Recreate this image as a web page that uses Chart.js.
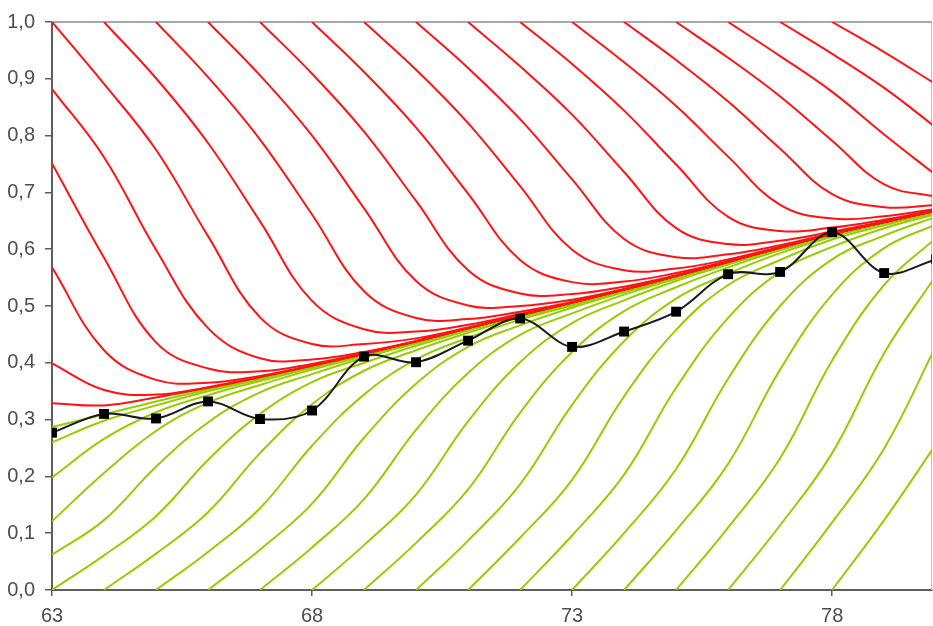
<!DOCTYPE html>
<html>
<head>
<meta charset="utf-8">
<script src="https://cdn.jsdelivr.net/npm/chart.js@4.4.1/dist/chart.umd.min.js"></script>
<style>
  html, body { margin: 0; padding: 0; background: #fff; overflow: hidden; }
  canvas { display: block; }
</style>
</head>
<body>
<canvas id="chart" width="933" height="626"></canvas>
<script>
// x values (years 63..80) and the tick labels on the x axis
const years = [63, 64, 65, 66, 67, 68, 69, 70, 71, 72, 73, 74, 75, 76, 77, 78, 79, 80];
const xTicks = [63, 68, 73, 78];

// black series with square markers
const observed = [0.277, 0.310, 0.302, 0.332, 0.301, 0.316, 0.411, 0.401, 0.439, 0.478,
                  0.428, 0.455, 0.490, 0.556, 0.560, 0.630, 0.558, 0.582];

const N = null;

// red curves, one row per curve, values at years 63..80
const redCurves = [
    [0.329, 0.325, 0.339, 0.356, 0.375, 0.395, 0.416, 0.438, 0.461, 0.484, 0.506, 0.529, 0.553, 0.578, 0.603, 0.627, 0.648, 0.668],
    [0.399, 0.352, 0.344, 0.357, 0.375, 0.395, 0.416, 0.438, 0.461, 0.484, 0.506, 0.529, 0.553, 0.578, 0.603, 0.627, 0.648, 0.668],
    [0.568, 0.422, 0.370, 0.365, 0.377, 0.395, 0.416, 0.438, 0.461, 0.484, 0.506, 0.529, 0.553, 0.578, 0.603, 0.627, 0.648, 0.668],
    [0.751, 0.585, 0.436, 0.390, 0.385, 0.398, 0.417, 0.438, 0.461, 0.484, 0.506, 0.529, 0.553, 0.578, 0.603, 0.627, 0.648, 0.668],
    [0.882, 0.762, 0.599, 0.461, 0.408, 0.406, 0.419, 0.438, 0.461, 0.484, 0.506, 0.529, 0.553, 0.578, 0.603, 0.627, 0.648, 0.668],
    [1.000, 0.891, 0.775, 0.623, 0.480, 0.433, 0.433, 0.443, 0.462, 0.484, 0.506, 0.529, 0.553, 0.578, 0.603, 0.627, 0.648, 0.668],
    [N, 1.000, 0.901, 0.787, 0.649, 0.509, 0.459, 0.455, 0.467, 0.486, 0.506, 0.529, 0.553, 0.578, 0.603, 0.627, 0.648, 0.668],
    [N, N, 1.000, 0.903, 0.793, 0.661, 0.526, 0.479, 0.477, 0.490, 0.507, 0.529, 0.553, 0.578, 0.603, 0.627, 0.648, 0.668],
    [N, N, N, 1.000, 0.906, 0.800, 0.672, 0.544, 0.501, 0.500, 0.511, 0.530, 0.553, 0.578, 0.603, 0.627, 0.648, 0.668],
    [N, N, N, N, 1.000, 0.909, 0.807, 0.685, 0.563, 0.522, 0.521, 0.534, 0.554, 0.578, 0.603, 0.627, 0.648, 0.668],
    [N, N, N, N, N, 1.000, 0.912, 0.814, 0.698, 0.581, 0.542, 0.543, 0.558, 0.579, 0.603, 0.627, 0.648, 0.668],
    [N, N, N, N, N, N, 1.000, 0.916, 0.822, 0.711, 0.599, 0.563, 0.566, 0.582, 0.604, 0.627, 0.648, 0.668],
    [N, N, N, N, N, N, N, 1.000, 0.919, 0.829, 0.723, 0.618, 0.586, 0.591, 0.607, 0.628, 0.648, 0.668],
    [N, N, N, N, N, N, N, N, 1.000, 0.922, 0.837, 0.736, 0.637, 0.609, 0.615, 0.631, 0.649, 0.668],
    [N, N, N, N, N, N, N, N, N, 1.000, 0.926, 0.844, 0.749, 0.657, 0.632, 0.638, 0.652, 0.669],
    [N, N, N, N, N, N, N, N, N, N, 1.000, 0.929, 0.852, 0.763, 0.678, 0.654, 0.658, 0.671],
    [N, N, N, N, N, N, N, N, N, N, N, 1.000, 0.933, 0.860, 0.777, 0.697, 0.674, 0.678],
    [N, N, N, N, N, N, N, N, N, N, N, N, 1.000, 0.937, 0.869, 0.791, 0.714, 0.692],
    [N, N, N, N, N, N, N, N, N, N, N, N, N, 1.000, 0.940, 0.877, 0.802, 0.730],
    [N, N, N, N, N, N, N, N, N, N, N, N, N, N, 1.000, 0.944, 0.884, 0.814],
    [N, N, N, N, N, N, N, N, N, N, N, N, N, N, N, 1.000, 0.947, 0.890]
];

// green curves, same layout
const greenCurves = [
    [0.287, 0.309, 0.332, 0.353, 0.373, 0.393, 0.414, 0.436, 0.459, 0.482, 0.504, 0.527, 0.551, 0.576, 0.601, 0.625, 0.646, 0.666],
    [0.260, 0.298, 0.325, 0.350, 0.371, 0.393, 0.414, 0.436, 0.459, 0.482, 0.504, 0.527, 0.551, 0.576, 0.601, 0.625, 0.646, 0.666],
    [0.198, 0.266, 0.313, 0.343, 0.368, 0.391, 0.414, 0.436, 0.459, 0.482, 0.504, 0.527, 0.551, 0.576, 0.601, 0.625, 0.646, 0.666],
    [0.121, 0.206, 0.280, 0.330, 0.361, 0.388, 0.412, 0.436, 0.459, 0.482, 0.504, 0.527, 0.551, 0.576, 0.601, 0.625, 0.646, 0.666],
    [0.062, 0.123, 0.217, 0.295, 0.348, 0.380, 0.409, 0.434, 0.459, 0.482, 0.504, 0.527, 0.551, 0.576, 0.601, 0.625, 0.646, 0.666],
    [0.000, 0.061, 0.130, 0.229, 0.310, 0.366, 0.400, 0.430, 0.457, 0.482, 0.504, 0.527, 0.551, 0.576, 0.601, 0.625, 0.646, 0.666],
    [N, 0.000, 0.064, 0.137, 0.241, 0.327, 0.386, 0.422, 0.453, 0.480, 0.503, 0.527, 0.551, 0.576, 0.601, 0.625, 0.646, 0.666],
    [N, N, 0.000, 0.067, 0.144, 0.254, 0.344, 0.406, 0.444, 0.476, 0.501, 0.526, 0.551, 0.576, 0.601, 0.625, 0.646, 0.666],
    [N, N, N, 0.000, 0.071, 0.152, 0.268, 0.363, 0.428, 0.466, 0.497, 0.524, 0.550, 0.576, 0.601, 0.625, 0.646, 0.666],
    [N, N, N, N, 0.000, 0.075, 0.160, 0.282, 0.382, 0.449, 0.487, 0.520, 0.548, 0.575, 0.601, 0.625, 0.646, 0.666],
    [N, N, N, N, N, 0.000, 0.079, 0.168, 0.297, 0.401, 0.470, 0.510, 0.544, 0.573, 0.600, 0.625, 0.646, 0.666],
    [N, N, N, N, N, N, 0.000, 0.083, 0.177, 0.312, 0.419, 0.491, 0.533, 0.568, 0.598, 0.624, 0.646, 0.666],
    [N, N, N, N, N, N, N, 0.000, 0.087, 0.186, 0.326, 0.438, 0.513, 0.557, 0.593, 0.622, 0.645, 0.666],
    [N, N, N, N, N, N, N, N, 0.000, 0.092, 0.194, 0.341, 0.458, 0.537, 0.581, 0.617, 0.642, 0.665],
    [N, N, N, N, N, N, N, N, N, 0.000, 0.096, 0.203, 0.356, 0.479, 0.560, 0.604, 0.637, 0.662],
    [N, N, N, N, N, N, N, N, N, N, 0.000, 0.100, 0.213, 0.372, 0.500, 0.582, 0.624, 0.657],
    [N, N, N, N, N, N, N, N, N, N, N, 0.000, 0.105, 0.222, 0.388, 0.520, 0.602, 0.644],
    [N, N, N, N, N, N, N, N, N, N, N, N, 0.000, 0.110, 0.232, 0.404, 0.537, 0.620],
    [N, N, N, N, N, N, N, N, N, N, N, N, N, 0.000, 0.114, 0.241, 0.417, 0.554],
    [N, N, N, N, N, N, N, N, N, N, N, N, N, N, 0.000, 0.119, 0.249, 0.430],
    [N, N, N, N, N, N, N, N, N, N, N, N, N, N, N, 0.000, 0.123, 0.257]
];

const RED = "#ff1414";
const GREEN = "#99cc00";
const AXIS = "#5f5f5f";
const LABEL = "#4d4d4d";

function toPoints(values) {
    return years.map((x, i) => ({ x: x, y: values[i] }));
}

function curve(values, color, order) {
    return {
        data: toPoints(values),
        borderColor: color,
        borderWidth: 2,
        pointRadius: 0,
        tension: 0.4,
        fill: false,
        order: order
    };
}

const datasets = [{
    data: toPoints(observed),
    borderColor: "#1a1a1a",
    backgroundColor: "#000",
    borderWidth: 2,
    tension: 0.35,
    pointStyle: "rect",
    pointRadius: 7,
    pointBorderWidth: 0,
    pointBackgroundColor: "#000",
    order: 0
}];
redCurves.forEach(c => datasets.push(curve(c, RED, 1)));
greenCurves.forEach(c => datasets.push(curve(c, GREEN, 2)));

// grey frame line on top and right of the plot area
const frame = {
    id: "frame",
    beforeDatasetsDraw(chart) {
        const { ctx, chartArea } = chart;
        ctx.save();
        ctx.strokeStyle = "#a8a8a8";
        ctx.lineWidth = 2;
        ctx.beginPath();
        ctx.moveTo(chartArea.left, chartArea.top);
        ctx.lineTo(chartArea.right, chartArea.top);
        ctx.stroke();
        ctx.lineWidth = 1;
        ctx.strokeStyle = "#c0c0c0";
        ctx.beginPath();
        ctx.moveTo(chartArea.right - 0.5, chartArea.top);
        ctx.lineTo(chartArea.right - 0.5, chartArea.bottom);
        ctx.stroke();
        ctx.restore();
    }
};

const font = { family: "'Liberation Sans', Arial, sans-serif", size: 20 };

new Chart(document.getElementById("chart"), {
    type: "line",
    data: { datasets: datasets },
    options: {
        responsive: false,
        animation: false,
        devicePixelRatio: 1,
        layout: { autoPadding: false, padding: { top: 19, right: 1, left: 0, bottom: 0 } },
        plugins: { legend: { display: false }, tooltip: { enabled: false } },
        scales: {
            x: {
                type: "linear",
                min: 63,
                max: 79.92,
                afterBuildTicks: axis => { axis.ticks = xTicks.map(v => ({ value: v })); },
                afterFit: axis => {
                    axis.height = 36;
                    axis.paddingLeft = 0;
                    axis.paddingRight = 0;
                },
                ticks: { font: font, color: LABEL, padding: 8, maxRotation: 0 },
                grid: { drawOnChartArea: false, drawTicks: true, tickLength: 6, color: AXIS, lineWidth: 1.5 },
                border: { color: AXIS, width: 2 }
            },
            y: {
                min: 0,
                max: 1,
                afterFit: axis => { axis.width = 52; },
                ticks: {
                    stepSize: 0.1,
                    font: font,
                    color: LABEL,
                    padding: 10,
                    callback: v => v.toFixed(1).replace(".", ",")
                },
                grid: { drawOnChartArea: false, drawTicks: true, tickLength: 7, color: AXIS, lineWidth: 1.5 },
                border: { color: AXIS, width: 2 }
            }
        }
    },
    plugins: [frame]
});
</script>
</body>
</html>
